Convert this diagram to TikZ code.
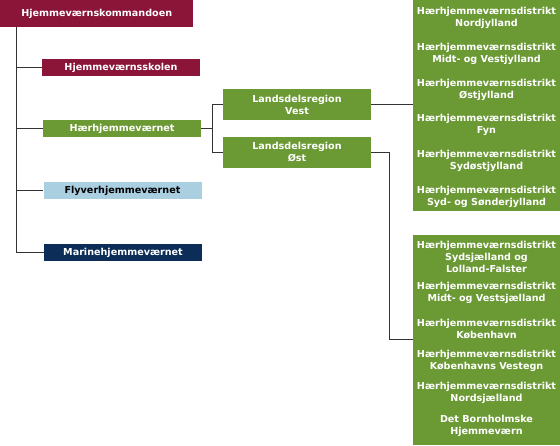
\documentclass[tikz,border=0pt]{standalone}
\usepackage{fontspec}
\newfontfamily\hvfont{DejaVu Sans}
\definecolor{hvred}{HTML}{8A1538}
\definecolor{hvgreen}{HTML}{6B9A35}
\definecolor{hvblue}{HTML}{A9CFE1}
\definecolor{hvnavy}{HTML}{0C2D57}
\definecolor{hvline}{HTML}{333333}
\tikzset{
  orgbox/.style={rectangle, inner sep=0pt, text=white, align=center,
    font=\hvfont\bfseries\fontsize{9.6}{12}\selectfont},
  unitbox/.style={orgbox, minimum width=158pt, minimum height=17pt},
  regionbox/.style={orgbox, fill=hvgreen, minimum width=148pt, minimum height=31pt},
  distbox/.style={rectangle, fill=hvgreen, inner sep=0pt, minimum width=147pt, anchor=north west},
  distname/.style={orgbox},
  link/.style={draw=hvline, line width=0.9pt}
}
\begin{document}
\begin{tikzpicture}[x=1pt,y=-1pt]
\useasboundingbox (0,0) rectangle (560,445);

\node[orgbox, fill=hvred, minimum width=193pt, minimum height=27pt, anchor=north west] (hjk) at (0,0) {Hjemmeværnskommandoen};

\node[unitbox, fill=hvred] (skole) at (121,67.5) {Hjemmeværnsskolen};
\node[unitbox, fill=hvgreen] (haer) at (122,128.5) {Hærhjemmeværnet};
\node[unitbox, fill=hvblue, text=black] (flyver) at (122.5,190.5) {Flyverhjemmeværnet};
\node[unitbox, fill=hvnavy] (marine) at (123,252.5) {Marinehjemmeværnet};

\node[regionbox] (vest) at (297,104.5) {Landsdelsregion\\Vest};
\node[regionbox] (oest) at (297,152) {Landsdelsregion\\Øst};

% distrikter
\node[distbox, minimum height=211pt] (distvest) at (413,0) {};
\node[distbox, minimum height=210pt] (distoest) at (413,235) {};

\foreach \y/\t [count=\i] in {18/{Hærhjemmeværnsdistrikt\\Nordjylland},
    54/{Hærhjemmeværnsdistrikt\\Midt- og Vestjylland},
    89.5/{Hærhjemmeværnsdistrikt\\Østjylland},
    125/{Hærhjemmeværnsdistrikt\\Fyn},
    161/{Hærhjemmeværnsdistrikt\\Sydøstjylland},
    196.5/{Hærhjemmeværnsdistrikt\\Syd- og Sønderjylland}}
  \node[distname] (dv\i) at (486.5,\y) {\t};

\foreach \y/\t [count=\i] in {257/{Hærhjemmeværnsdistrikt\\Sydsjælland og\\Lolland-Falster},
    293/{Hærhjemmeværnsdistrikt\\Midt- og Vestsjælland},
    329/{Hærhjemmeværnsdistrikt\\København},
    361/{Hærhjemmeværnsdistrikt\\Københavns Vestegn},
    393/{Hærhjemmeværnsdistrikt\\Nordsjælland},
    426/{Det Bornholmske\\Hjemmeværn}}
  \node[distname] (do\i) at (486.5,\y) {\t};

% forbindelser
\foreach \u in {skole,haer,flyver,marine}
  \draw[link] ([xshift=16pt]hjk.south west) |- (\u.west);

\coordinate (haerfork) at ([xshift=11pt]haer.east);
\draw[link] (haer.east) -- (haerfork);
\draw[link] (haerfork) |- (vest.west);
\draw[link] (haerfork) |- (oest.west);

\draw[link] (vest.east) -- (vest.east -| distvest.west);
\coordinate (oestin) at (413,339);
\draw[link] (oest.east) -- ++(18,0) |- (oestin);

\end{tikzpicture}
\end{document}
